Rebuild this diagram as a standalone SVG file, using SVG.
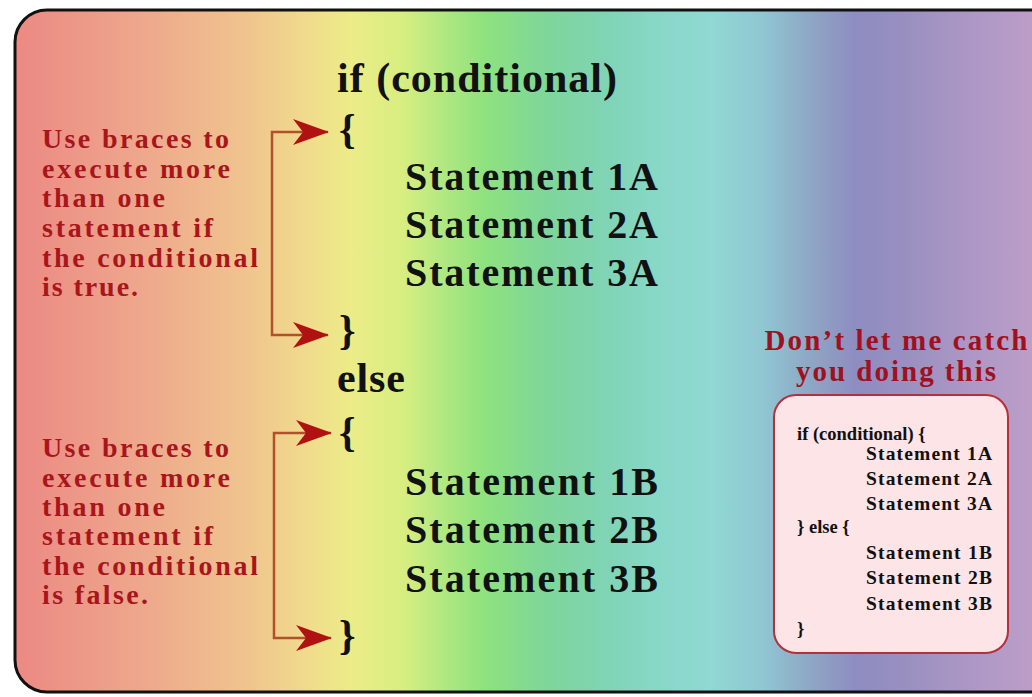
<svg xmlns="http://www.w3.org/2000/svg" width="1032" height="697" viewBox="0 0 1032 697">
<defs>
<linearGradient id="bg" x1="0" y1="0" x2="1032" y2="0" gradientUnits="userSpaceOnUse">
<stop offset="0.02" stop-color="#ec8a84"/>
<stop offset="0.14" stop-color="#eea88c"/>
<stop offset="0.24" stop-color="#f0c48e"/>
<stop offset="0.30" stop-color="#f0dc8c"/>
<stop offset="0.34" stop-color="#ecec88"/>
<stop offset="0.39" stop-color="#d8ee80"/>
<stop offset="0.44" stop-color="#a8e680"/>
<stop offset="0.47" stop-color="#8ee27e"/>
<stop offset="0.53" stop-color="#7ed69a"/>
<stop offset="0.59" stop-color="#80d4b6"/>
<stop offset="0.64" stop-color="#88d8c8"/>
<stop offset="0.69" stop-color="#90d8d4"/>
<stop offset="0.74" stop-color="#90c6d2"/>
<stop offset="0.78" stop-color="#8eaac6"/>
<stop offset="0.83" stop-color="#8e8cc0"/>
<stop offset="0.88" stop-color="#9a90c0"/>
<stop offset="0.93" stop-color="#aa96c4"/>
<stop offset="1" stop-color="#bc9ec8"/>
</linearGradient>
<marker id="ah" viewBox="0 0 36 26" refX="35" refY="13" markerWidth="36" markerHeight="26" markerUnits="userSpaceOnUse" orient="auto-start-reverse">
<path d="M0,0 L36,13 L0,26 L10,13 Z" fill="#b01212"/>
</marker>
</defs>
<style>
.code{font-family:"Liberation Serif","Times New Roman",serif;font-weight:bold;fill:#111}
.big{font-size:40px}
.note{font-family:"Liberation Serif","Times New Roman",serif;font-weight:bold;font-size:28px;fill:#a8161c}
.title{font-family:"Liberation Serif","Times New Roman",serif;font-weight:bold;font-size:29px;fill:#a01020;text-anchor:middle}
.small{font-size:18.5px}
.stmt{font-size:19.5px}
.conn{fill:none;stroke:#b0502c;stroke-width:2.5;marker-start:url(#ah);marker-end:url(#ah)}
</style>
<rect x="0" y="0" width="1032" height="697" fill="#ffffff"/>
<rect id="panel" x="15" y="10" width="1060" height="682" rx="32" fill="url(#bg)" stroke="#111" stroke-width="3"/>

<g id="connectors">
<path class="conn" d="M328,132 H272 V335 H328"/>
<path class="conn" d="M331,433 H274 V638 H331"/>
</g>

<g id="code-main">
<text class="code" x="337" y="92" font-size="42" textLength="280" lengthAdjust="spacing">if (conditional)</text>
<text class="code" x="339" y="143" font-size="42">{</text>
<text class="code big" x="405" y="190" textLength="253" lengthAdjust="spacing">Statement 1A</text>
<text class="code big" x="405" y="238" textLength="253" lengthAdjust="spacing">Statement 2A</text>
<text class="code big" x="405" y="286" textLength="253" lengthAdjust="spacing">Statement 3A</text>
<text class="code" x="339" y="344" font-size="42">}</text>
<text class="code" x="337" y="392" font-size="42" textLength="68" lengthAdjust="spacing">else</text>
<text class="code" x="339" y="446" font-size="42">{</text>
<text class="code big" x="405" y="495" textLength="253" lengthAdjust="spacing">Statement 1B</text>
<text class="code big" x="405" y="543" textLength="253" lengthAdjust="spacing">Statement 2B</text>
<text class="code big" x="405" y="592" textLength="253" lengthAdjust="spacing">Statement 3B</text>
<text class="code" x="339" y="649" font-size="42">}</text>
</g>

<g id="note-true">
<text class="note" x="42" y="148" textLength="187" lengthAdjust="spacing">Use braces to</text>
<text class="note" x="42" y="178" textLength="188" lengthAdjust="spacing">execute more</text>
<text class="note" x="42" y="207" textLength="123" lengthAdjust="spacing">than one</text>
<text class="note" x="42" y="237" textLength="171" lengthAdjust="spacing">statement if</text>
<text class="note" x="42" y="267" textLength="216" lengthAdjust="spacing">the conditional</text>
<text class="note" x="42" y="296" textLength="96" lengthAdjust="spacing">is true.</text>
</g>

<g id="note-false">
<text class="note" x="42" y="457" textLength="187" lengthAdjust="spacing">Use braces to</text>
<text class="note" x="42" y="487" textLength="188" lengthAdjust="spacing">execute more</text>
<text class="note" x="42" y="516" textLength="123" lengthAdjust="spacing">than one</text>
<text class="note" x="42" y="545" textLength="171" lengthAdjust="spacing">statement if</text>
<text class="note" x="42" y="575" textLength="216" lengthAdjust="spacing">the conditional</text>
<text class="note" x="42" y="604" textLength="106" lengthAdjust="spacing">is false.</text>
</g>

<g id="warning">
<text class="title" x="896" y="350" textLength="263" lengthAdjust="spacing">Don’t let me catch</text>
<text class="title" x="896" y="381" textLength="200" lengthAdjust="spacing">you doing this</text>
<rect x="774" y="395" width="234" height="258" rx="22" fill="#fde4e6" stroke="#b4303c" stroke-width="2"/>
<text class="code small" x="797" y="440">if (conditional) {</text>
<text class="code stmt" x="866" y="460" textLength="126" lengthAdjust="spacing">Statement 1A</text>
<text class="code stmt" x="866" y="485" textLength="126" lengthAdjust="spacing">Statement 2A</text>
<text class="code stmt" x="866" y="510" textLength="126" lengthAdjust="spacing">Statement 3A</text>
<text class="code small" x="797" y="533">} else {</text>
<text class="code stmt" x="866" y="559" textLength="126" lengthAdjust="spacing">Statement 1B</text>
<text class="code stmt" x="866" y="584" textLength="126" lengthAdjust="spacing">Statement 2B</text>
<text class="code stmt" x="866" y="610" textLength="126" lengthAdjust="spacing">Statement 3B</text>
<text class="code small" x="797" y="635">}</text>
</g>
</svg>
